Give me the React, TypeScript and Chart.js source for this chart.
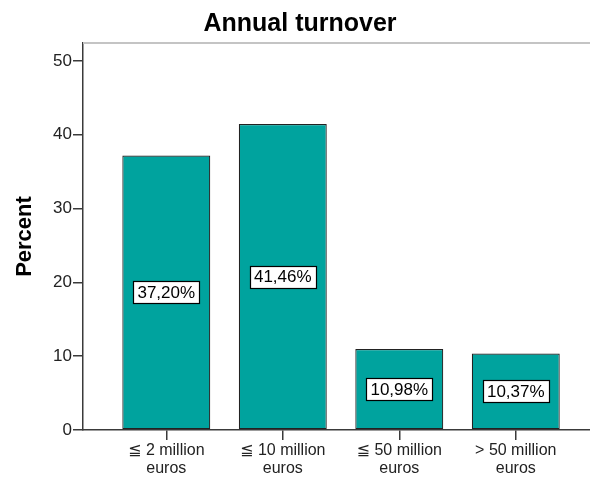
import React, { useEffect, useRef } from "react";
import { Chart, registerables } from "chart.js";

Chart.register(...registerables);

const titleText = "Annual turnover";
const yAxisTitle = "Percent";
const categories: string[][] = [
  ["≦ 2 million", "euros"],
  ["≦ 10 million", "euros"],
  ["≦ 50 million", "euros"],
  ["> 50 million", "euros"],
];
const percentValues: number[] = [37.2, 41.46, 10.98, 10.37];
const yTicks: number[] = [0, 10, 20, 30, 40, 50];

const FONT = "Arial, 'Liberation Sans', 'DejaVu Sans', sans-serif";

const topLinePlugin = {
  id: "topLine",
  beforeDatasetsDraw(chart: any) {
    const { ctx, chartArea } = chart;
    ctx.save();
    ctx.strokeStyle = "#c4c4c4";
    ctx.lineWidth = 2;
    ctx.beginPath();
    ctx.moveTo(chartArea.left, chartArea.top);
    ctx.lineTo(chartArea.right, chartArea.top);
    ctx.stroke();
    ctx.restore();
  },
};

const boxLabelPlugin = {
  id: "boxLabels",
  afterDatasetsDraw(chart: any) {
    const { ctx } = chart;
    const meta = chart.getDatasetMeta(0);
    ctx.save();
    ctx.font = `17px ${FONT}`;
    ctx.textAlign = "center";
    ctx.textBaseline = "middle";
    meta.data.forEach((bar: any, i: number) => {
      const text = percentValues[i].toFixed(2).replace(".", ",") + "%";
      const cx = bar.x;
      const cy = (bar.y + bar.base) / 2;
      const w = ctx.measureText(text).width + 8;
      const h = 22;
      ctx.fillStyle = "#ffffff";
      ctx.fillRect(Math.round(cx - w / 2) + 0.5, Math.round(cy - h / 2) + 0.5, Math.round(w), h);
      ctx.strokeStyle = "#000000";
      ctx.lineWidth = 1.2;
      ctx.strokeRect(Math.round(cx - w / 2) + 0.5, Math.round(cy - h / 2) + 0.5, Math.round(w), h);
      ctx.fillStyle = "#000000";
      ctx.fillText(text, cx, cy + 1);
    });
    ctx.restore();
  },
};

export default function App() {
  const ref = useRef<HTMLCanvasElement | null>(null);

  useEffect(() => {
    if (!ref.current) return;
    const chart = new Chart(ref.current, {
      type: "bar",
      data: {
        datasets: [
          {
            data: percentValues.map((v, i) => ({ x: i + 1, y: v })),
            backgroundColor: "#00a39e",
            borderColor: "#222222",
            borderWidth: 1.2,
            borderSkipped: false,
            categoryPercentage: 1,
            barPercentage: 0.755,
          } as any,
        ],
      },
      options: {
        animation: false,
        responsive: false,
        layout: { padding: { left: 0, right: 0, top: 0, bottom: 0 } },
        plugins: {
          legend: { display: false },
          tooltip: { enabled: false },
          title: {
            display: true,
            text: titleText,
            color: "#000000",
            font: { family: FONT, size: 25, weight: "bold" },
            padding: { top: 9, bottom: 4 },
          },
        },
        scales: {
          x: {
            type: "linear",
            offset: false,
            min: 0.285,
            max: 4.723,
            afterBuildTicks: (scale: any) => {
              scale.ticks = categories.map((_, i) => ({ value: i + 1 }));
            },
            afterFit: (scale: any) => {
              scale.height = 47;
            },
            ticks: {
              autoSkip: false,
              maxRotation: 0,
              padding: 2,
              color: "#222222",
              font: { family: FONT, size: 16, lineHeight: 1.1 },
              callback: (v: any) => categories[Number(v) - 1] ?? "",
            },
            grid: {
              offset: false,
              drawOnChartArea: false,
              drawTicks: true,
              tickLength: 10,
              color: "#3a3a3a",
              lineWidth: 1.5,
            },
            border: { display: true, color: "#3a3a3a", width: 1.5 },
          },
          y: {
            min: 0,
            max: 52.44,
            afterBuildTicks: (scale: any) => {
              scale.ticks = yTicks.map((v) => ({ value: v }));
            },
            afterFit: (scale: any) => {
              scale.width = 83;
            },
            ticks: {
              includeBounds: false,
              padding: 1,
              color: "#222222",
              font: { family: FONT, size: 17 },
            },
            title: {
              display: true,
              text: yAxisTitle,
              color: "#000000",
              font: { family: FONT, size: 22, weight: "bold" },
              padding: { top: 12, bottom: 0 },
            },
            grid: {
              drawOnChartArea: false,
              drawTicks: true,
              tickLength: 10,
              color: "#3a3a3a",
              lineWidth: 1.5,
            },
            border: { display: true, color: "#3a3a3a", width: 1.5 },
          },
        },
      } as any,
      plugins: [topLinePlugin, boxLabelPlugin],
    });
    return () => chart.destroy();
  }, []);

  return (
    <div
      style={{
        position: "fixed",
        left: 0,
        top: 0,
        width: 590,
        height: 477,
        overflow: "hidden",
        background: "#ffffff",
      }}
    >
      <canvas ref={ref} width={600} height={477} style={{ width: 600, height: 477, display: "block" }} />
    </div>
  );
}
